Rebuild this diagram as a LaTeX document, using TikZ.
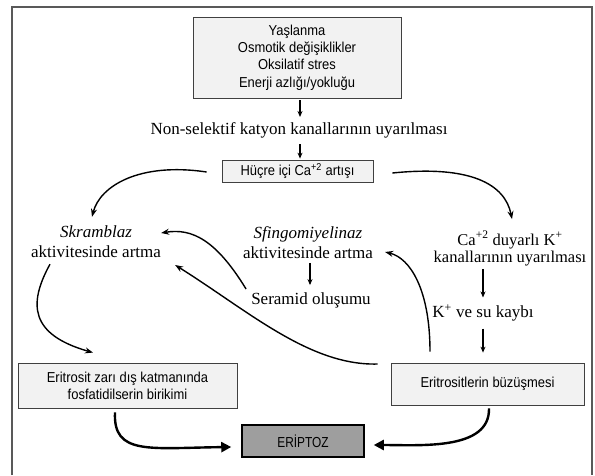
\documentclass[tikz,border=0pt]{standalone}
\usepackage{fontspec}
\setmainfont{Liberation Serif}
\newfontfamily\sansf[FakeStretch=0.9]{Liberation Sans}
\newfontfamily\sansn[FakeStretch=0.82]{Liberation Sans}
\usetikzlibrary{arrows.meta,calc}
\begin{document}
\begin{tikzpicture}[x=1pt,y=-1pt,
 boxs/.style={draw=black!75, line width=0.8pt, fill=black!5, font=\sansf\fontsize{14.4}{17.3}\selectfont, align=center, inner sep=0pt},
 txt/.style={font=\fontsize{17}{20}\selectfont, align=center, inner sep=0pt},
 arr/.style={line width=1.1pt, -{Stealth[length=6pt,width=5pt]}},
 carr/.style={line width=1.4pt, -{Stealth[length=8pt,width=6pt]}},
 tarr/.style={line width=2.4pt, -{Triangle[length=10pt,width=10pt]}},
]
\useasboundingbox (0,0) rectangle (595,475);
\draw[line width=1.2pt, black!65] (12,475) -- (12,7) -- (592,7) -- (592,475);

\node[boxs, minimum width=208pt, minimum height=81pt] (top) at (297,57.5)
  {Yaşlanma\\Osmotik değişiklikler\\Oksilatif stres\\Enerji azlığı/yokluğu};
\node[txt] (non) at (299,130) {Non-selektif katyon kanallarının uyarılması};
\node[boxs, minimum width=151pt, minimum height=22pt] (hc) at (297.5,171) {Hüçre içi Ca\textsuperscript{+2} artışı};
\node[txt] (skr) at (96,242) {\textit{Skramblaz}\\aktivitesinde artma};
\node[txt] (sfi) at (308,242.5) {\textit{Sfingomiyelinaz}\\aktivitesinde artma};
\node[txt] (ser) at (311,300) {Seramid oluşumu};
\node[txt, font=\fontsize{16.5}{17}\selectfont] (cak) at (510,248.5) {Ca\textsuperscript{+2} duyarlı K\textsuperscript{+}\\kanallarının uyarılması};
\node[txt] (ksu) at (483,313) {K\textsuperscript{+} ve su kaybı};
\node[boxs, minimum width=219pt, minimum height=45pt] (eri) at (127.5,385.5)
  {Eritrosit zarı dış katmanında\\fosfatidilserin birikimi};
\node[boxs, minimum width=193pt, minimum height=42pt] (buz) at (487.5,384) {Eritrositlerin büzüşmesi};
\node[boxs, draw=black, line width=1.5pt, fill=black!38, font=\sansn\fontsize{14.5}{16}\selectfont,
  minimum width=122pt, minimum height=32pt] (ept) at (303,441) {ERİPTOZ};

% straight arrows
\draw[arr] ($(top.south)+(3,2)$) -- ($(non.north)+(1,-5)$);
\draw[arr] ($(non.south)+(1,6)$) -- ($(hc.north)+(2.5,-1)$);
\draw[arr] ($(sfi.south)+(2,4)$) -- ($(ser.north)+(-1,-7)$);
\draw[arr] ($(cak.south)+(-27,3)$) -- ($(ksu.north)+(0,-7)$);
\draw[arr] ($(ksu.south)+(0,7)$) -- ($(buz.north)+(-4.5,-10)$);

% curved arrows
\draw[carr] ($(hc.west)+(-15,1)$) .. controls +(-67,-10) and +(8,-31) .. ($(skr.north)+(-4,-9)$);
\draw[carr] ($(hc.east)+(19,2)$) .. controls +(78,-8) and +(-7,-35) .. ($(cak.north)+(2,-12)$);
\draw[carr] ($(ser.west)+(-5,-11)$) .. controls +(-30,-49) and +(31,-5) .. ($(skr.east)+(0,-9)$);
\draw[carr] ($(buz.west)+(-13,-20)$) .. controls +(-68,2) and +(72,45) .. ($(skr.east)+(14,23)$);
\draw[carr] ($(buz.north)+(-57.5,-11)$) .. controls +(0,-62) and +(25,6) .. ($(sfi.east)+(12,9.5)$);
\draw[carr] ($(skr.south)+(-46,6)$) .. controls +(-22,40) and +(-63,-18) .. ($(eri.north)+(-34.5,-10)$);

% thick arrows to eryptosis
\draw[tarr] ($(eri.south)+(-12.5,4)$) .. controls +(-2,43) and +(-82,1) .. ($(ept.west)+(-10,6)$);
\draw[tarr] ($(buz.south)+(1.5,3)$) .. controls +(1,42) and +(47,0) .. ($(ept.east)+(9,4)$);
\end{tikzpicture}
\end{document}
